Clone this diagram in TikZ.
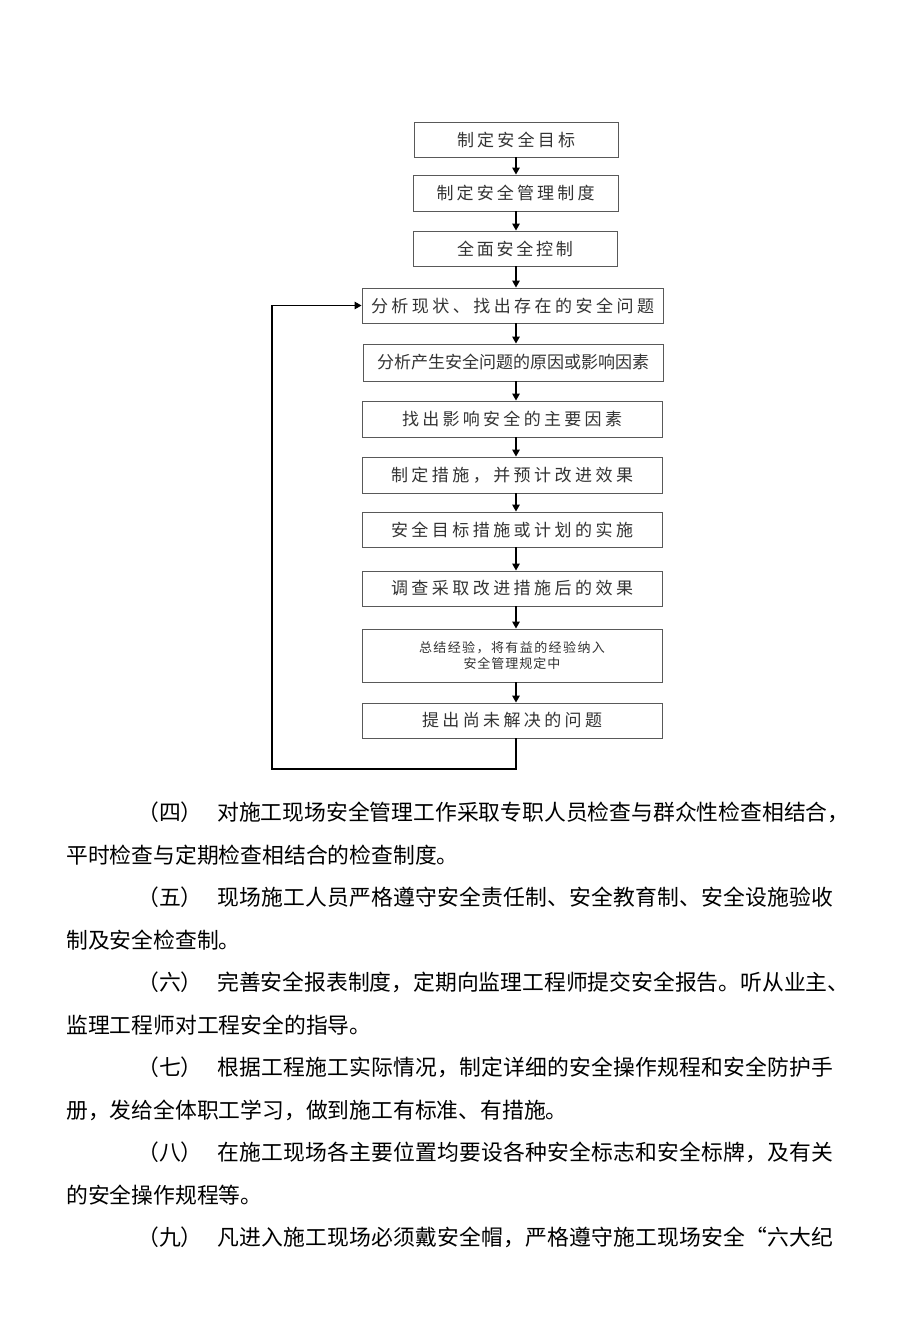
\documentclass[tikz,border=0pt]{standalone}
\usepackage{fontspec}
\newfontfamily\cjk{Noto Sans CJK SC}
\usetikzlibrary{arrows.meta}
\ExplSyntaxOn
\NewDocumentCommand\spr{mm}{\makebox[#1pt][s]{\tl_map_inline:nn{#2}{##1\hfil}\unskip}}
\ExplSyntaxOff
\begin{document}
\begin{tikzpicture}[x=1pt,y=-1pt,
  box/.style={draw=black!65, line width=0.9pt, inner sep=0pt, minimum width=300pt, minimum height=35pt,
    font=\cjk\fontsize{17}{17}\selectfont, text=black!80},
  arr/.style={-{Triangle[length=7pt,width=7.5pt]}, line width=1.3pt},
  para/.style={anchor=west, inner sep=0pt, font=\cjk\fontsize{21.8}{22}\selectfont}]
\useasboundingbox (0,0) rectangle (920,1343);
\fill[white] (0,0) rectangle (920,1343);
% flowchart
\node[box, minimum width=204pt] (b1) at (516,139.5) {\spr{118}{制定安全目标}};
\node[box, minimum width=205pt, minimum height=36pt] (b2) at (515.5,193) {\spr{158}{制定安全管理制度}};
\node[box, minimum width=204pt] (b3) at (515,248.5) {\spr{116}{全面安全控制}};
\node[box, minimum width=301pt] (b4) at (512.5,305.5) {\spr{283}{分析现状、找出存在的安全问题}};
\node[box, minimum height=37pt] (b5) at (513,362.5) {\spr{272}{分析产生安全问题的原因或影响因素}};
\node[box, minimum height=36pt] (b6) at (512,419) {\spr{220}{找出影响安全的主要因素}};
\node[box, minimum height=36pt] (b7) at (512,475) {\spr{242}{制定措施，并预计改进效果}};
\node[box] (b8) at (512,529.5) {\spr{242}{安全目标措施或计划的实施}};
\node[box] (b9) at (512,588.5) {\spr{242}{调查采取改进措施后的效果}};
\node[box, minimum height=53pt, align=center, font=\cjk\fontsize{13}{15.5}\selectfont] (b10) at (512,655.5)
  {\spr{186}{总结经验，将有益的经验纳入}\\\spr{97}{安全管理规定中}};
\node[box] (b11) at (512,720.5) {\spr{180}{提出尚未解决的问题}};
\coordinate (ax) at (516,0);
\foreach \a/\b in {b1/b2,b2/b3,b3/b4,b4/b5,b5/b6,b6/b7,b7/b8,b8/b9,b9/b10,b10/b11}
  \draw[arr] (\a.south -| ax) -- (\b.north -| ax);
\coordinate (fb) at (272,769);
\draw[arr] (b11.south -| ax) |- (fb) |- (b4.west);
% paragraphs
\node[para] (p4) at (137,812) {（四）};
\node[para] (l1) at (217,812) {\spr{632}{对施工现场安全管理工作采取专职人员检查与群众性检查相结合，}};
\node[para] (l2) at (66,855) {平时检查与定期检查相结合的检查制度。};
\node[para] (p5) at (137,897) {（五）};
\node[para] (l3) at (217,897) {\spr{616}{现场施工人员严格遵守安全责任制、安全教育制、安全设施验收}};
\node[para] (l4) at (66,940) {制及安全检查制。};
\node[para] (p6) at (137,982) {（六）};
\node[para] (l5) at (217,982) {\spr{632}{完善安全报表制度，定期向监理工程师提交安全报告。听从业主、}};
\node[para] (l6) at (66,1025) {监理工程师对工程安全的指导。};
\node[para] (p7) at (137,1067) {（七）};
\node[para] (l7) at (217,1067) {\spr{616}{根据工程施工实际情况，制定详细的安全操作规程和安全防护手}};
\node[para] (l8) at (66,1110) {册，发给全体职工学习，做到施工有标准、有措施。};
\node[para] (p8) at (137,1152) {（八）};
\node[para] (l9) at (217,1152) {\spr{616}{在施工现场各主要位置均要设各种安全标志和安全标牌，及有关}};
\node[para] (l10) at (66,1195) {的安全操作规程等。};
\node[para] (p9) at (137,1237) {（九）};
\node[para] (l11) at (217,1237) {\spr{616}{凡进入施工现场必须戴安全帽，严格遵守施工现场安全“六大纪}};
\end{tikzpicture}
\end{document}
